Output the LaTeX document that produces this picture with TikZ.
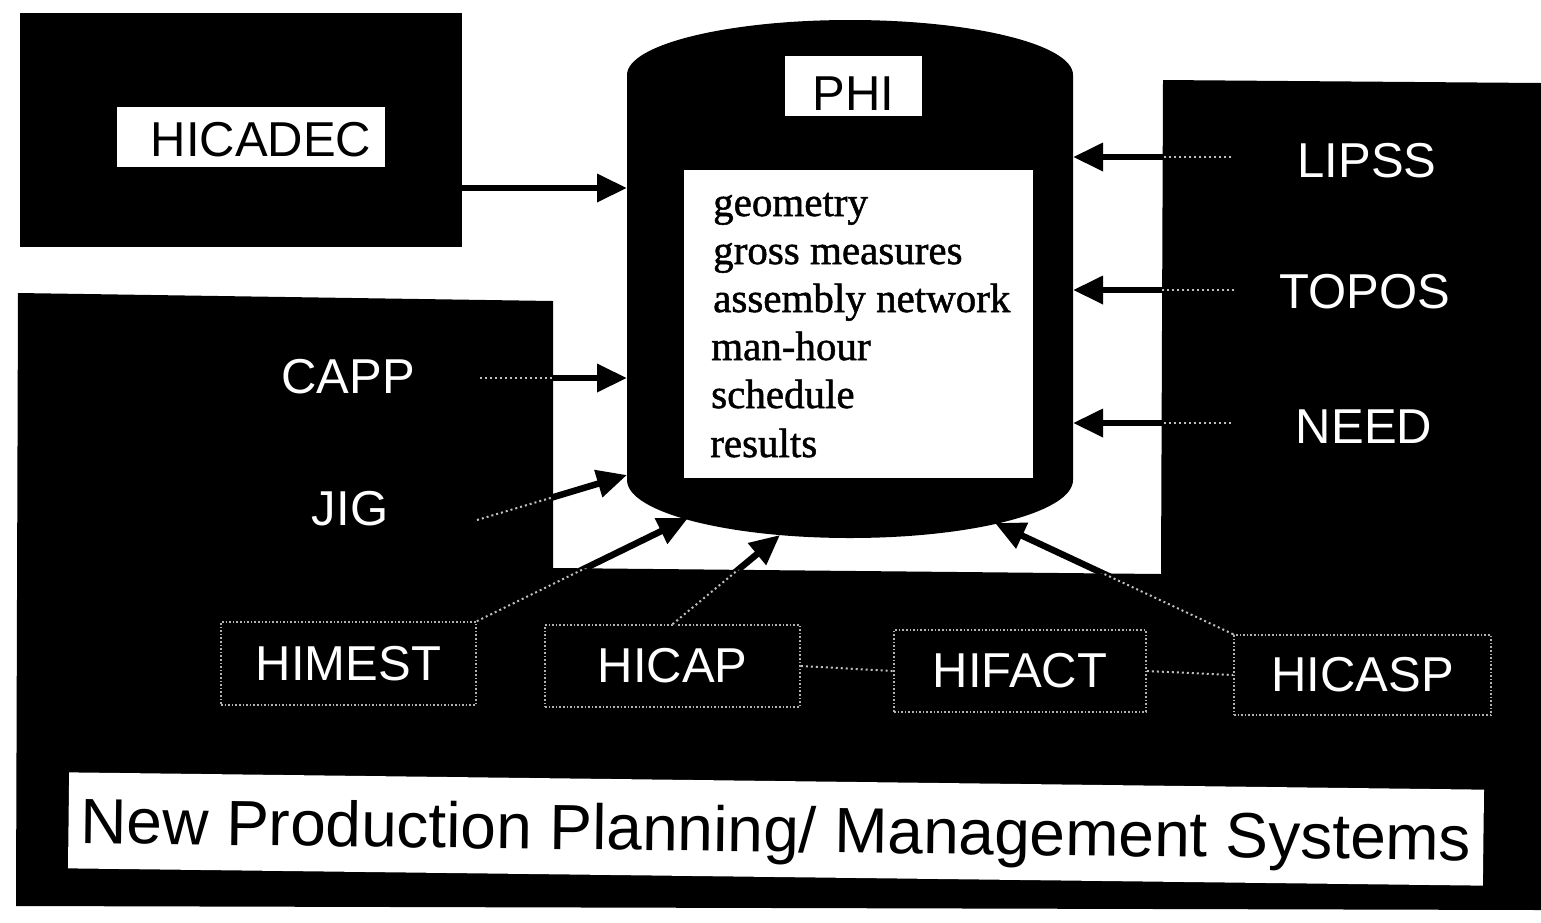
\documentclass[tikz,border=0pt]{standalone}
\usepackage{fontspec}
\setmainfont{Liberation Serif}
\setsansfont{Liberation Sans}
\newfontfamily\itemfont[FakeBold=1.2]{Liberation Serif}
\usetikzlibrary{arrows.meta,calc}
\tikzset{
  dark/.style={fill=black, draw=none},
  lab/.style={text=white, font=\sffamily\fontsize{49}{55}\selectfont, inner sep=0pt},
  sysbox/.style={lab, draw=white!70!black, dotted, line width=1.6pt},
  whitebox/.style={fill=white, draw=none, inner sep=0pt},
  item/.style={anchor=base west, font=\itemfont\fontsize{41}{48}\selectfont, inner sep=0pt},
  arr/.style={black, line width=6.5pt, -{Triangle[length=30pt,width=27pt]}},
  dotline/.style={draw=white!75!black, line width=2pt, dash pattern=on 2pt off 3pt},
}
\begin{document}
\begin{tikzpicture}[x=1pt,y=-1pt]
\useasboundingbox (0,0) rectangle (1541,922);
% dark background regions
\path[dark] (18,293) -- (553,301) -- (553,568) -- (1161,574) -- (1163,80) -- (1541,83) -- (1541,910) -- (16,906) -- cycle;
\node[dark, minimum width=442pt, minimum height=234pt, inner sep=0pt] (hicadecbg) at (241,130) {};
% cylinder PHI
\fill[black] (627,75) -- (627,480) arc[start angle=180, end angle=0, x radius=223, y radius=58] -- (1073,75) arc[start angle=0, end angle=-180, x radius=223, y radius=55] -- cycle;
\node[whitebox, minimum width=349pt, minimum height=308pt] (phibox) at (858.5,324) {};
\node[whitebox, text=black, font=\sffamily\fontsize{49}{55}\selectfont, text height=48pt, text depth=0pt, minimum width=137pt, minimum height=60pt] (phi) at (853.5,86) {PHI};
\node[item] (l1) at (713,216) {geometry};
\node[item] (l2) at (713,264) {gross measures};
\node[item] (l3) at (713,312) {assembly network};
\node[item] (l4) at (711,360) {man-hour};
\node[item] (l5) at (711,408) {schedule};
\node[item] (l6) at (710,457) {results};
\coordinate (pL1) at (627,188);
\coordinate (pL2) at (627,378);
\coordinate (pL3) at (627,475);
\coordinate (pB1) at (688,518);
\coordinate (pB2) at (780,535);
\coordinate (pB3) at (995,523);
\coordinate (pR1) at (1073,157);
\coordinate (pR2) at (1073,290);
\coordinate (pR3) at (1073,423);
% HICADEC
\node[whitebox, minimum width=268pt, minimum height=60pt] (hicadecbox) at (251,137) {};
\node[lab, text=black] (hicadec) at (261,140) {HICADEC};
% labels
\node[lab] (capp) at (348,377) {CAPP};
\node[lab] (jig) at (350,509) {JIG};
\coordinate (jigout) at (477,520);
\node[lab] (lipss) at (1367,161) {LIPSS};
\node[lab] (topos) at (1365,292) {TOPOS};
\node[lab] (need) at (1364,427) {NEED};
\node[sysbox, minimum width=255pt, minimum height=83pt] (himest) at (348.5,663.5) {HIMEST};
\node[sysbox, minimum width=255pt, minimum height=82pt] (hicap) at (672.5,666) {HICAP};
\node[sysbox, minimum width=252pt, minimum height=82pt] (hifact) at (1020,671) {HIFACT};
\node[sysbox, minimum width=257pt, minimum height=80pt] (hicasp) at (1362.5,675) {HICASP};
% title
\node[whitebox, rotate=-0.7, minimum width=1415pt, minimum height=96pt, text height=45.8pt, text depth=0pt, font=\sffamily\fontsize{64}{70}\selectfont] (title) at (776,829) {New Production Planning/ Management Systems};
% arrows
\draw[arr] (hicadecbg.east |- pL1) -- (pL1);
\draw[arr] (capp.east |- pL2) -- (pL2);
\draw[arr] (jigout) -- (pL3);
\draw[arr] (himest.north east) -- (pB1);
\draw[arr] (hicap.north) -- (pB2);
\draw[arr] (hicasp.north west) -- (pB3);
\draw[arr] (lipss.west |- pR1) -- (pR1);
\draw[arr] (topos.west |- pR2) -- (pR2);
\draw[arr] (need.west |- pR3) -- (pR3);
% dotted parts of the connectors inside the dark regions
\begin{scope}
\clip (18,293) -- (553,301) -- (553,568) -- (1161,574) -- (1163,80) -- (1541,83) -- (1541,910) -- (16,906) -- cycle;
\draw[dotline, shorten <=65pt] (capp.east |- pL2) -- (pL2);
\draw[dotline] (jigout) -- (pL3);
\draw[dotline] (himest.north east) -- (pB1);
\draw[dotline] (hicap.north) -- (pB2);
\draw[dotline] (hicasp.north west) -- (pB3);
\draw[dotline, shorten <=66pt] (lipss.west |- pR1) -- (pR1);
\draw[dotline, shorten <=45pt] (topos.west |- pR2) -- (pR2);
\draw[dotline, shorten <=65pt] (need.west |- pR3) -- (pR3);
\end{scope}
\draw[dotline] (hicap.east) -- (hifact.west);
\draw[dotline] (hifact.east) -- (hicasp.west);
\end{tikzpicture}
\end{document}
